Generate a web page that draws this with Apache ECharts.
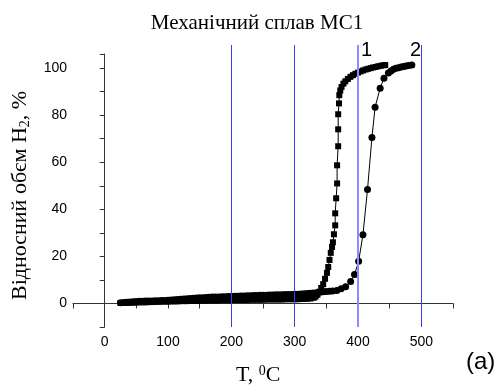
<!DOCTYPE html>
<html>
<head>
<meta charset="utf-8">
<script src="https://cdn.jsdelivr.net/npm/echarts@6/dist/echarts.min.js"></script>
<style>
  html, body { margin: 0; padding: 0; background: #fff; }
  #chart { width: 501px; height: 385px; }
</style>
</head>
<body>
<div id="chart"></div>
<script>
// Curve 1 (squares): temperature, °C
const tempSq = [25,30,35,40,45,50,55,60,65,70,75,80,85,90,95,100,105,110,115,120,125,130,135,140,145,150,155,160,165,170,175,180,185,190,195,200,205,210,215,220,225,230,235,240,245,250,255,260,265,270,275,280,285,290,295,300,305,310,315,320,325,330,333,336,339,342,345,348,351,353,355,357,359,360.4,362,364,364,365.5,367,367,368.7,368.7,368.7,370,370.5,372,374,377,380,384,388,392,396,400,404,408,412,416,420,424,428,432,436,440,443];
// Curve 1 (squares): relative H2 volume, %
const volSq = [0.2,0.2,0.3,0.3,0.4,0.4,0.5,0.5,0.5,0.6,0.6,0.7,0.7,0.8,0.8,0.8,0.9,0.9,0.9,1.0,1.0,1.0,1.1,1.1,1.1,1.2,1.2,1.2,1.3,1.3,1.3,1.3,1.4,1.4,1.4,1.4,1.5,1.5,1.5,1.5,1.5,1.6,1.6,1.6,1.6,1.6,1.7,1.7,1.7,1.7,1.7,1.7,1.8,1.8,1.8,1.8,1.8,1.9,1.9,2.0,2.1,2.4,2.9,3.7,5.0,6.6,8.2,10.5,13.0,15.5,18.5,21.5,24.0,26.0,29.4,33.2,38.3,44.7,51.0,58.7,66.8,74.0,80.4,85.0,88.5,90.5,92.0,93.4,94.4,95.4,96.3,97.0,97.6,98.1,98.6,99.0,99.4,99.7,100.0,100.3,100.5,100.8,101.0,101.2,101.3];

// Curve 2 (circles): temperature, °C
const tempCi = [25,30,35,40,45,50,55,60,65,70,75,80,85,90,95,100,105,110,115,120,125,130,135,140,145,150,155,160,165,170,175,180,185,190,195,200,205,210,215,220,225,230,235,240,245,250,255,260,265,270,275,280,285,290,295,300,305,310,315,320,325,330,335,340,345,350,355,360,366.6,373.4,380.5,388.4,394.5,401,407.8,415,422,427,435,441,448,452,456,460,464,468,472,476,480,485];
// Curve 2 (circles): relative H2 volume, %
const volCi = [0.3,0.4,0.5,0.6,0.7,0.8,0.9,0.9,1.0,1.1,1.1,1.2,1.2,1.3,1.3,1.4,1.5,1.6,1.7,1.8,1.9,2.0,2.1,2.2,2.3,2.4,2.4,2.5,2.6,2.7,2.7,2.8,2.9,2.9,3.0,3.0,3.1,3.1,3.2,3.2,3.3,3.3,3.4,3.4,3.5,3.5,3.5,3.6,3.6,3.7,3.7,3.7,3.8,3.8,3.8,3.9,3.9,4.0,4.1,4.2,4.3,4.4,4.6,4.8,5.0,5.1,5.2,5.3,5.5,6.2,7.1,9.3,12.3,17.9,29.2,48.4,70.5,83.4,91.5,95.7,97.9,98.8,99.5,99.9,100.2,100.5,100.7,100.9,101.1,101.3];

// Reference temperatures marked with vertical lines
const refTemps = [200, 300, 400, 500];
const refColors = ['#3c3cf0', '#3c3cf0', '#8c8cff', '#3c3cf0'];
const refWidths = [1, 1, 2, 1];

// Axis tick labels
const xTickLabels = [0, 100, 200, 300, 400, 500];
const yTickLabels = [0, 20, 40, 60, 80, 100];

const pairs = (xs, ys) => xs.map((x, i) => [x, ys[i]]);

const chart = echarts.init(document.getElementById('chart'), null, { renderer: 'canvas' });

const axisFont = { fontFamily: 'Liberation Sans, Arial, sans-serif', fontSize: 14, color: '#000' };
const serif = 'Liberation Serif, Times New Roman, serif';

chart.setOption({
  animation: false,
  backgroundColor: '#fff',
  grid: [
    { left: 73, right: 48, top: 54, bottom: 58, containLabel: false },
    { left: 73, right: 48, top: 45, bottom: 58, containLabel: false }
  ],
  xAxis: [
    {
      type: 'value', gridIndex: 0, min: -50, max: 550, interval: 50,
      axisLine: { show: true, lineStyle: { color: '#333', width: 1 } },
      axisTick: { show: true, length: 5, lineStyle: { color: '#333' } },
      splitLine: { show: false },
      axisLabel: {
        ...axisFont, margin: 8,
        formatter: v => xTickLabels.includes(v) ? String(v) : ''
      }
    },
    { type: 'value', gridIndex: 1, min: -50, max: 550, show: false }
  ],
  yAxis: [
    {
      type: 'value', gridIndex: 0, min: -10, max: 106, interval: 10,
      axisLine: { show: true, lineStyle: { color: '#333', width: 1 } },
      axisTick: { show: true, length: 5, lineStyle: { color: '#333' } },
      splitLine: { show: false },
      axisLabel: {
        ...axisFont, margin: 6,
        formatter: v => yTickLabels.includes(v) ? String(v) : ''
      }
    },
    { type: 'value', gridIndex: 1, min: 0, max: 1, show: false }
  ],
  series: [
    {
      type: 'scatter', xAxisIndex: 1, yAxisIndex: 1, data: [], z: 1,
      markLine: {
        silent: true, symbol: ['none', 'none'], label: { show: false },
        data: refTemps.map((t, i) => ({
          xAxis: t,
          lineStyle: { color: refColors[i], width: refWidths[i], type: 'solid' }
        }))
      }
    },
    {
      name: '1', type: 'line', z: 3,
      data: pairs(tempSq, volSq),
      symbol: 'rect', symbolSize: 6, showSymbol: true, showAllSymbol: true,
      lineStyle: { color: '#000', width: 1 },
      itemStyle: { color: '#000' }
    },
    {
      name: '2', type: 'line', z: 3,
      data: pairs(tempCi, volCi),
      symbol: 'circle', symbolSize: 7, showSymbol: true, showAllSymbol: true,
      lineStyle: { color: '#000', width: 1 },
      itemStyle: { color: '#000' }
    }
  ],
  graphic: [
    {
      type: 'text', z: 10,
      style: { x: 257, y: 13, text: 'Механічний сплав МС1', font: '21px ' + serif, fill: '#000', textAlign: 'center' }
    },
    {
      type: 'text', z: 10,
      style: { x: 361, y: 40, text: '1', font: '20px Liberation Sans, Arial, sans-serif', fill: '#000' }
    },
    {
      type: 'text', z: 10,
      style: { x: 410, y: 40, text: '2', font: '20px Liberation Sans, Arial, sans-serif', fill: '#000' }
    },
    {
      type: 'text', z: 10,
      style: { x: 466, y: 350, text: '(a)', font: '24px Liberation Sans, Arial, sans-serif', fill: '#000' }
    },
    {
      type: 'text', z: 10,
      x: 9, y: 300, rotation: Math.PI / 2,
      style: {
        x: 0, y: 0,
        text: 'Відносний обєм H{sub|2}, %',
        font: '22px ' + serif, fill: '#000',
        rich: {
          sub: { font: '14px ' + serif, fill: '#000', padding: [9, 0, 0, 0] }
        }
      }
    },
    {
      type: 'text', z: 10,
      style: {
        x: 236, y: 364,
        text: 'T, {sup|0}C',
        font: '22px ' + serif, fill: '#000',
        rich: {
          sup: { font: '14px ' + serif, fill: '#000', padding: [0, 0, 9, 0] }
        }
      }
    }
  ]
});
</script>
</body>
</html>
